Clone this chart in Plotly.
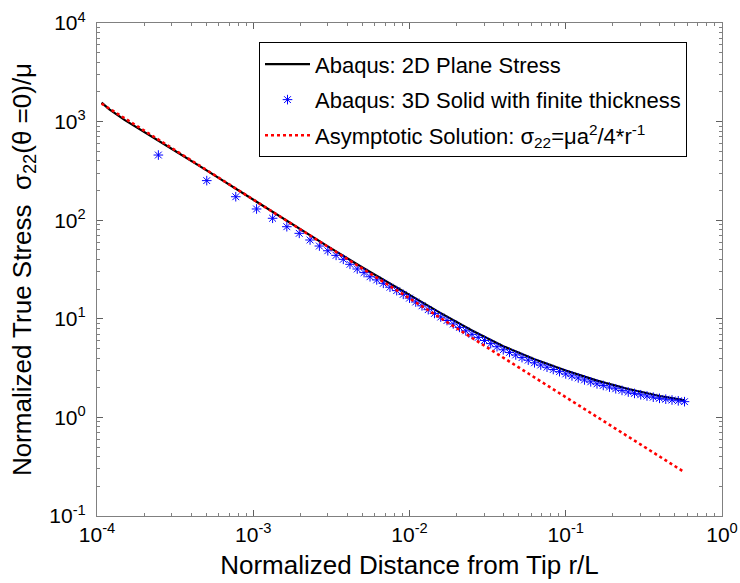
import plotly.graph_objects as go

# ---- data ----
r_2d = [1.07e-4, 1.2e-4, 1.5e-4, 1.9e-4, 2.4e-4, 3.0e-4, 5.0e-4, 1.0e-3, 2.0e-3,
        3.0e-3, 5.0e-3, 6.5e-3, 1.0e-2, 1.585e-2, 2.512e-2, 3.981e-2, 6.31e-2,
        0.1, 0.1585, 0.2512, 0.3981, 0.58]
s_2d = [1560, 1330, 1040, 830, 655, 530, 322, 161, 81,
        54.3, 33.1, 26.0, 17.4, 11.43, 7.62, 5.28, 3.89,
        2.985, 2.36, 1.94, 1.65, 1.49]

r_3d = [2.47e-4, 5.04e-4, 7.73e-4, 1.05e-3, 1.33e-3, 1.64e-3, 1.97e-3, 2.31e-3,
        2.65e-3, 3.0e-3, 3.39e-3, 3.77e-3, 4.16e-3, 4.63e-3, 5.12e-3, 5.59e-3,
        6.17e-3, 6.80e-3, 7.50e-3, 8.28e-3,
        0.00912, 0.0100, 0.01096, 0.01202, 0.01318, 0.01445, 0.01585, 0.01738,
        0.01905, 0.02089, 0.02291, 0.02512, 0.02754, 0.03020, 0.03311, 0.03631,
        0.03981, 0.04365, 0.04786, 0.05248, 0.05754, 0.06310, 0.06918, 0.07586,
        0.08318, 0.09120, 0.1000, 0.1096, 0.1202, 0.1318, 0.1445, 0.1585,
        0.1738, 0.1905, 0.2089, 0.2291, 0.2512, 0.2754, 0.3020, 0.3311,
        0.3631, 0.3981, 0.4365, 0.4786, 0.5248, 0.5754]
s_3d = [458, 252, 173, 130, 104.6, 85.9, 73.6, 63,
        54.7, 49, 44, 40.1, 35.7, 32.0, 29.4, 26.7,
        24.8, 22.9, 20.9, 19.3,
        17.7, 16.2, 14.8, 13.54, 12.38, 11.34, 10.42, 9.61,
        8.86, 8.18, 7.55, 6.96, 6.48, 6.03, 5.60, 5.21,
        4.85, 4.56, 4.30, 4.04, 3.81, 3.58, 3.40, 3.23,
        3.06, 2.91, 2.76, 2.635, 2.515, 2.40, 2.295, 2.19,
        2.11, 2.03, 1.952, 1.879, 1.808, 1.752, 1.697, 1.648,
        1.603, 1.561, 1.530, 1.501, 1.472, 1.444]

r_asym = [1.07e-4, 0.573]
s_asym = [1520, 0.279]

x_tickvals = [1e-4, 1e-3, 1e-2, 1e-1, 1e0]
x_ticktext = ["10<sup>-4</sup>", "10<sup>-3</sup>", "10<sup>-2</sup>", "10<sup>-1</sup>", "10<sup>0</sup>"]
y_tickvals = [1e-1, 1e0, 1e1, 1e2, 1e3, 1e4]
y_ticktext = ["10<sup>-1</sup>", "10<sup>0</sup>", "10<sup>1</sup>", "10<sup>2</sup>", "10<sup>3</sup>", "10<sup>4</sup>"]

names = ["Abaqus: 2D Plane Stress",
         "Abaqus: 3D Solid with finite thickness",
         "Asymptotic Solution: σ<sub>22</sub>=μa<sup>2</sup>/4*r<sup>-1</sup>"]

FONT = "Liberation Sans, Arial, sans-serif"

fig = go.Figure()
fig.add_trace(go.Scatter(
    x=r_2d, y=s_2d, mode="lines", name=names[0], legendgroup="a",
    line=dict(color="black", width=2.2),
))
fig.add_trace(go.Scatter(
    x=r_3d, y=s_3d, mode="markers", name=names[1], legendgroup="b",
    marker=dict(symbol="asterisk-open", size=8, color="#0000FF",
                line=dict(color="#0000FF", width=1)),
))
fig.add_trace(go.Scatter(
    x=r_asym, y=s_asym, mode="lines", name=names[2], legendgroup="c",
    line=dict(color="#FF0000", width=2.6, dash="dot"),
))

axis_common = dict(
    type="log", showline=True, linecolor="#808080", linewidth=1.2, mirror="ticks",
    ticks="inside", ticklen=6, tickcolor="#606060", tickwidth=1,
    showgrid=False, zeroline=False,
    tickfont=dict(family=FONT, size=21, color="black"),
    minor=dict(dtick="D1", ticks="inside", ticklen=3, tickcolor="#808080", showgrid=False),
)

fig.update_xaxes(range=[-4, 0], tickvals=x_tickvals, ticktext=x_ticktext,
                 title=dict(text="Normalized Distance from Tip r/L",
                            font=dict(family=FONT, size=26, color="black"), standoff=10),
                 **axis_common)
fig.update_yaxes(range=[-1, 4], tickvals=y_tickvals, ticktext=y_ticktext,
                 ticklabelstandoff=6,
                 title=dict(text="Normalized True Stress  σ<sub>22</sub>(θ =0)/μ",
                            font=dict(family=FONT, size=26, color="black"), standoff=10),
                 **axis_common)

fig.update_layout(
    width=740, height=583,
    margin=dict(l=97, r=18, t=23, b=67, autoexpand=False),
    paper_bgcolor="white", plot_bgcolor="white",
    font=dict(family=FONT, color="black"),
    showlegend=True,
    legend=dict(x=0.944, y=0.961, xanchor="right", yanchor="top",
                bgcolor="white", bordercolor="black", borderwidth=1,
                font=dict(family=FONT, size=22, color="black"),
                itemwidth=45,
                traceorder="grouped", tracegroupgap=4),
)

fig.write_html("out.html")
